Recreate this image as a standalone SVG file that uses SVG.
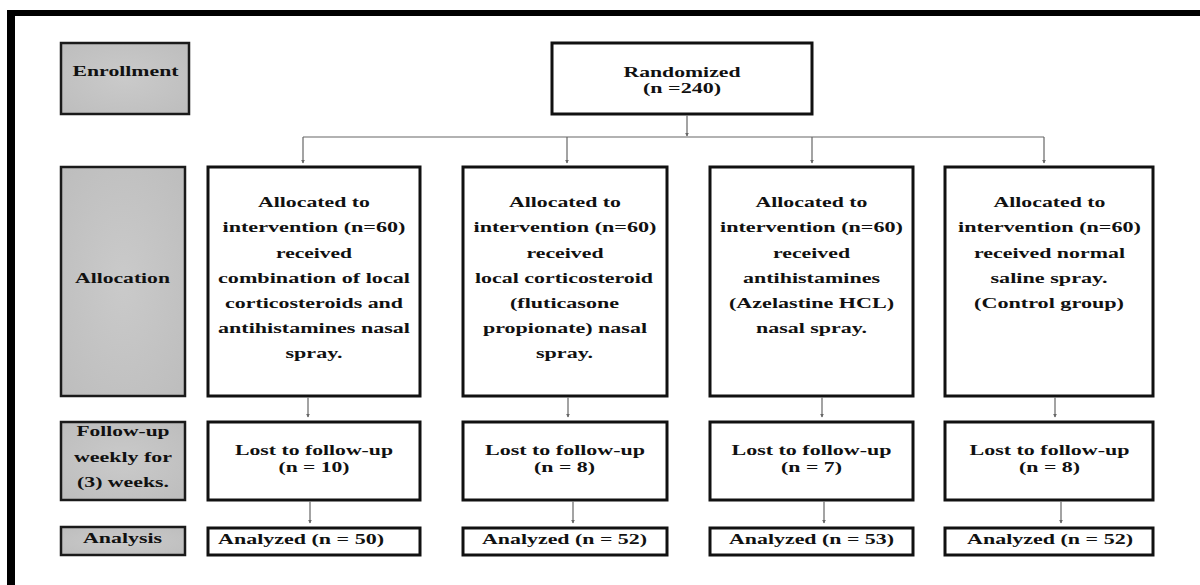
<svg xmlns="http://www.w3.org/2000/svg" width="1200" height="585" viewBox="0 0 1200 585">
<style>
  text { font-family: "Liberation Serif", "Times New Roman", serif; font-weight: bold; font-size: 15px; fill: #111; text-anchor: middle; }
  .lbl { fill: #c4c4c4; stroke: #1a1a1a; stroke-width: 2.5; }
  .box { fill: #ffffff; stroke: #111; stroke-width: 3; }
  .conn { stroke: #666; stroke-width: 1.2; fill: none; }
</style>
<defs>
  <marker id="arr" viewBox="0 0 6 6" refX="5" refY="3" markerWidth="3" markerHeight="3" orient="auto">
    <path d="M0,0 L6,3 L0,6 z" fill="#666"/>
  </marker>
  <radialGradient id="lg" cx="0.5" cy="0.5" r="0.7">
    <stop offset="0" stop-color="#cacaca"/>
    <stop offset="1" stop-color="#bdbdbd"/>
  </radialGradient>
</defs>
<rect x="0" y="0" width="1200" height="585" fill="#ffffff"/>
<!-- frame -->
<rect x="7" y="10" width="1193" height="6" fill="#000"/>
<rect x="7" y="10" width="8" height="575" fill="#000"/>

<!-- stage labels -->
<g id="label-enrollment">
  <rect class="lbl" x="61" y="43" width="128" height="71" fill="url(#lg)" style="fill:url(#lg)"/>
  <text x="125.5" y="76" textLength="106" lengthAdjust="spacingAndGlyphs">Enrollment</text>
</g>
<g id="label-allocation">
  <rect class="lbl" x="61" y="167" width="124" height="229" style="fill:url(#lg)"/>
  <text x="122.5" y="283" textLength="95" lengthAdjust="spacingAndGlyphs">Allocation</text>
</g>
<g id="label-followup">
  <rect class="lbl" x="61" y="422" width="124" height="78" style="fill:url(#lg)"/>
  <text x="123" y="436" textLength="93" lengthAdjust="spacingAndGlyphs">Follow-up</text>
  <text x="123" y="462" textLength="98" lengthAdjust="spacingAndGlyphs">weekly for</text>
  <text x="123" y="487" textLength="92" lengthAdjust="spacingAndGlyphs">(3) weeks.</text>
</g>
<g id="label-analysis">
  <rect class="lbl" x="61" y="527" width="124" height="28" style="fill:url(#lg)"/>
  <text x="122.5" y="543" textLength="79" lengthAdjust="spacingAndGlyphs">Analysis</text>
</g>

<!-- randomized -->
<g id="randomized">
  <rect class="box" x="552" y="43" width="260" height="71"/>
  <text x="682" y="77" textLength="117" lengthAdjust="spacingAndGlyphs">Randomized</text>
  <text x="682" y="93" textLength="78" lengthAdjust="spacingAndGlyphs">(n =240)</text>
</g>

<!-- allocation boxes -->
<g id="alloc1">
  <rect class="box" x="208" y="167" width="212" height="229"/>
  <text x="314" y="207" textLength="112" lengthAdjust="spacingAndGlyphs">Allocated to</text>
  <text x="314" y="232" textLength="183" lengthAdjust="spacingAndGlyphs">intervention (n=60)</text>
  <text x="314" y="257.5" textLength="76" lengthAdjust="spacingAndGlyphs">received</text>
  <text x="314" y="283" textLength="192" lengthAdjust="spacingAndGlyphs">combination of local</text>
  <text x="314" y="308" textLength="178" lengthAdjust="spacingAndGlyphs">corticosteroids and</text>
  <text x="314" y="333" textLength="192" lengthAdjust="spacingAndGlyphs">antihistamines nasal</text>
  <text x="314" y="358" textLength="57" lengthAdjust="spacingAndGlyphs">spray.</text>
</g>
<g id="alloc2">
  <rect class="box" x="463" y="167" width="204" height="229"/>
  <text x="565" y="207" textLength="112" lengthAdjust="spacingAndGlyphs">Allocated to</text>
  <text x="565" y="232" textLength="183" lengthAdjust="spacingAndGlyphs">intervention (n=60)</text>
  <text x="565" y="257.5" textLength="77" lengthAdjust="spacingAndGlyphs">received</text>
  <text x="564" y="283" textLength="178" lengthAdjust="spacingAndGlyphs">local corticosteroid</text>
  <text x="564.5" y="308" textLength="109" lengthAdjust="spacingAndGlyphs">(fluticasone</text>
  <text x="565" y="333" textLength="164" lengthAdjust="spacingAndGlyphs">propionate) nasal</text>
  <text x="564.5" y="358" textLength="57" lengthAdjust="spacingAndGlyphs">spray.</text>
</g>
<g id="alloc3">
  <rect class="box" x="710" y="167" width="203" height="229"/>
  <text x="811.5" y="207" textLength="112" lengthAdjust="spacingAndGlyphs">Allocated to</text>
  <text x="811.5" y="232" textLength="183" lengthAdjust="spacingAndGlyphs">intervention (n=60)</text>
  <text x="811.5" y="257.5" textLength="77" lengthAdjust="spacingAndGlyphs">received</text>
  <text x="811.5" y="283" textLength="137" lengthAdjust="spacingAndGlyphs">antihistamines</text>
  <text x="811.5" y="308" textLength="165" lengthAdjust="spacingAndGlyphs">(Azelastine HCL)</text>
  <text x="811.5" y="333" textLength="111" lengthAdjust="spacingAndGlyphs">nasal spray.</text>
</g>
<g id="alloc4">
  <rect class="box" x="945" y="167" width="208" height="229"/>
  <text x="1049.5" y="207" textLength="112" lengthAdjust="spacingAndGlyphs">Allocated to</text>
  <text x="1049.5" y="232" textLength="183" lengthAdjust="spacingAndGlyphs">intervention (n=60)</text>
  <text x="1049.5" y="257.5" textLength="151" lengthAdjust="spacingAndGlyphs">received normal</text>
  <text x="1049" y="283" textLength="117" lengthAdjust="spacingAndGlyphs">saline spray.</text>
  <text x="1049" y="308" textLength="150" lengthAdjust="spacingAndGlyphs">(Control group)</text>
</g>

<!-- follow-up boxes -->
<g id="lost1">
  <rect class="box" x="208" y="422" width="212" height="78"/>
  <text x="314" y="455" textLength="158" lengthAdjust="spacingAndGlyphs">Lost to follow-up</text>
  <text x="314" y="472" textLength="71" lengthAdjust="spacingAndGlyphs">(n = 10)</text>
</g>
<g id="lost2">
  <rect class="box" x="463" y="422" width="204" height="78"/>
  <text x="565" y="455" textLength="160" lengthAdjust="spacingAndGlyphs">Lost to follow-up</text>
  <text x="564.5" y="472" textLength="61" lengthAdjust="spacingAndGlyphs">(n = 8)</text>
</g>
<g id="lost3">
  <rect class="box" x="710" y="422" width="203" height="78"/>
  <text x="811.5" y="455" textLength="160" lengthAdjust="spacingAndGlyphs">Lost to follow-up</text>
  <text x="811.5" y="472" textLength="61" lengthAdjust="spacingAndGlyphs">(n = 7)</text>
</g>
<g id="lost4">
  <rect class="box" x="945" y="422" width="208" height="78"/>
  <text x="1049.5" y="455" textLength="160" lengthAdjust="spacingAndGlyphs">Lost to follow-up</text>
  <text x="1049.5" y="472" textLength="61" lengthAdjust="spacingAndGlyphs">(n = 8)</text>
</g>

<!-- analysis boxes -->
<g id="analyzed1">
  <rect class="box" x="208" y="528" width="212" height="27"/>
  <text x="301" y="544" textLength="166" lengthAdjust="spacingAndGlyphs">Analyzed (n = 50)</text>
</g>
<g id="analyzed2">
  <rect class="box" x="463" y="528" width="204" height="27"/>
  <text x="564.5" y="544" textLength="165" lengthAdjust="spacingAndGlyphs">Analyzed (n = 52)</text>
</g>
<g id="analyzed3">
  <rect class="box" x="710" y="528" width="203" height="27"/>
  <text x="811.5" y="544" textLength="165" lengthAdjust="spacingAndGlyphs">Analyzed (n = 53)</text>
</g>
<g id="analyzed4">
  <rect class="box" x="945" y="528" width="208" height="27"/>
  <text x="1050" y="544" textLength="166" lengthAdjust="spacingAndGlyphs">Analyzed (n = 52)</text>
</g>

<!-- connectors -->
<g id="connectors">
  <line class="conn" x1="687" y1="115.5" x2="687" y2="136" marker-end="url(#arr)"/>
  <line class="conn" x1="303" y1="137" x2="1044" y2="137"/>
  <line class="conn" x1="303" y1="137" x2="303" y2="163" marker-end="url(#arr)"/>
  <line class="conn" x1="567" y1="137" x2="567" y2="163" marker-end="url(#arr)"/>
  <line class="conn" x1="812" y1="137" x2="812" y2="163" marker-end="url(#arr)"/>
  <line class="conn" x1="1044" y1="137" x2="1044" y2="163" marker-end="url(#arr)"/>
  <line class="conn" x1="308" y1="397.5" x2="308" y2="417" marker-end="url(#arr)"/>
  <line class="conn" x1="568" y1="397.5" x2="568" y2="417" marker-end="url(#arr)"/>
  <line class="conn" x1="822" y1="397.5" x2="822" y2="417" marker-end="url(#arr)"/>
  <line class="conn" x1="1055" y1="397.5" x2="1055" y2="417" marker-end="url(#arr)"/>
  <line class="conn" x1="310" y1="501.5" x2="310" y2="523" marker-end="url(#arr)"/>
  <line class="conn" x1="573" y1="501.5" x2="573" y2="523" marker-end="url(#arr)"/>
  <line class="conn" x1="824" y1="501.5" x2="824" y2="523" marker-end="url(#arr)"/>
  <line class="conn" x1="1061" y1="501.5" x2="1061" y2="523" marker-end="url(#arr)"/>
</g>
</svg>
